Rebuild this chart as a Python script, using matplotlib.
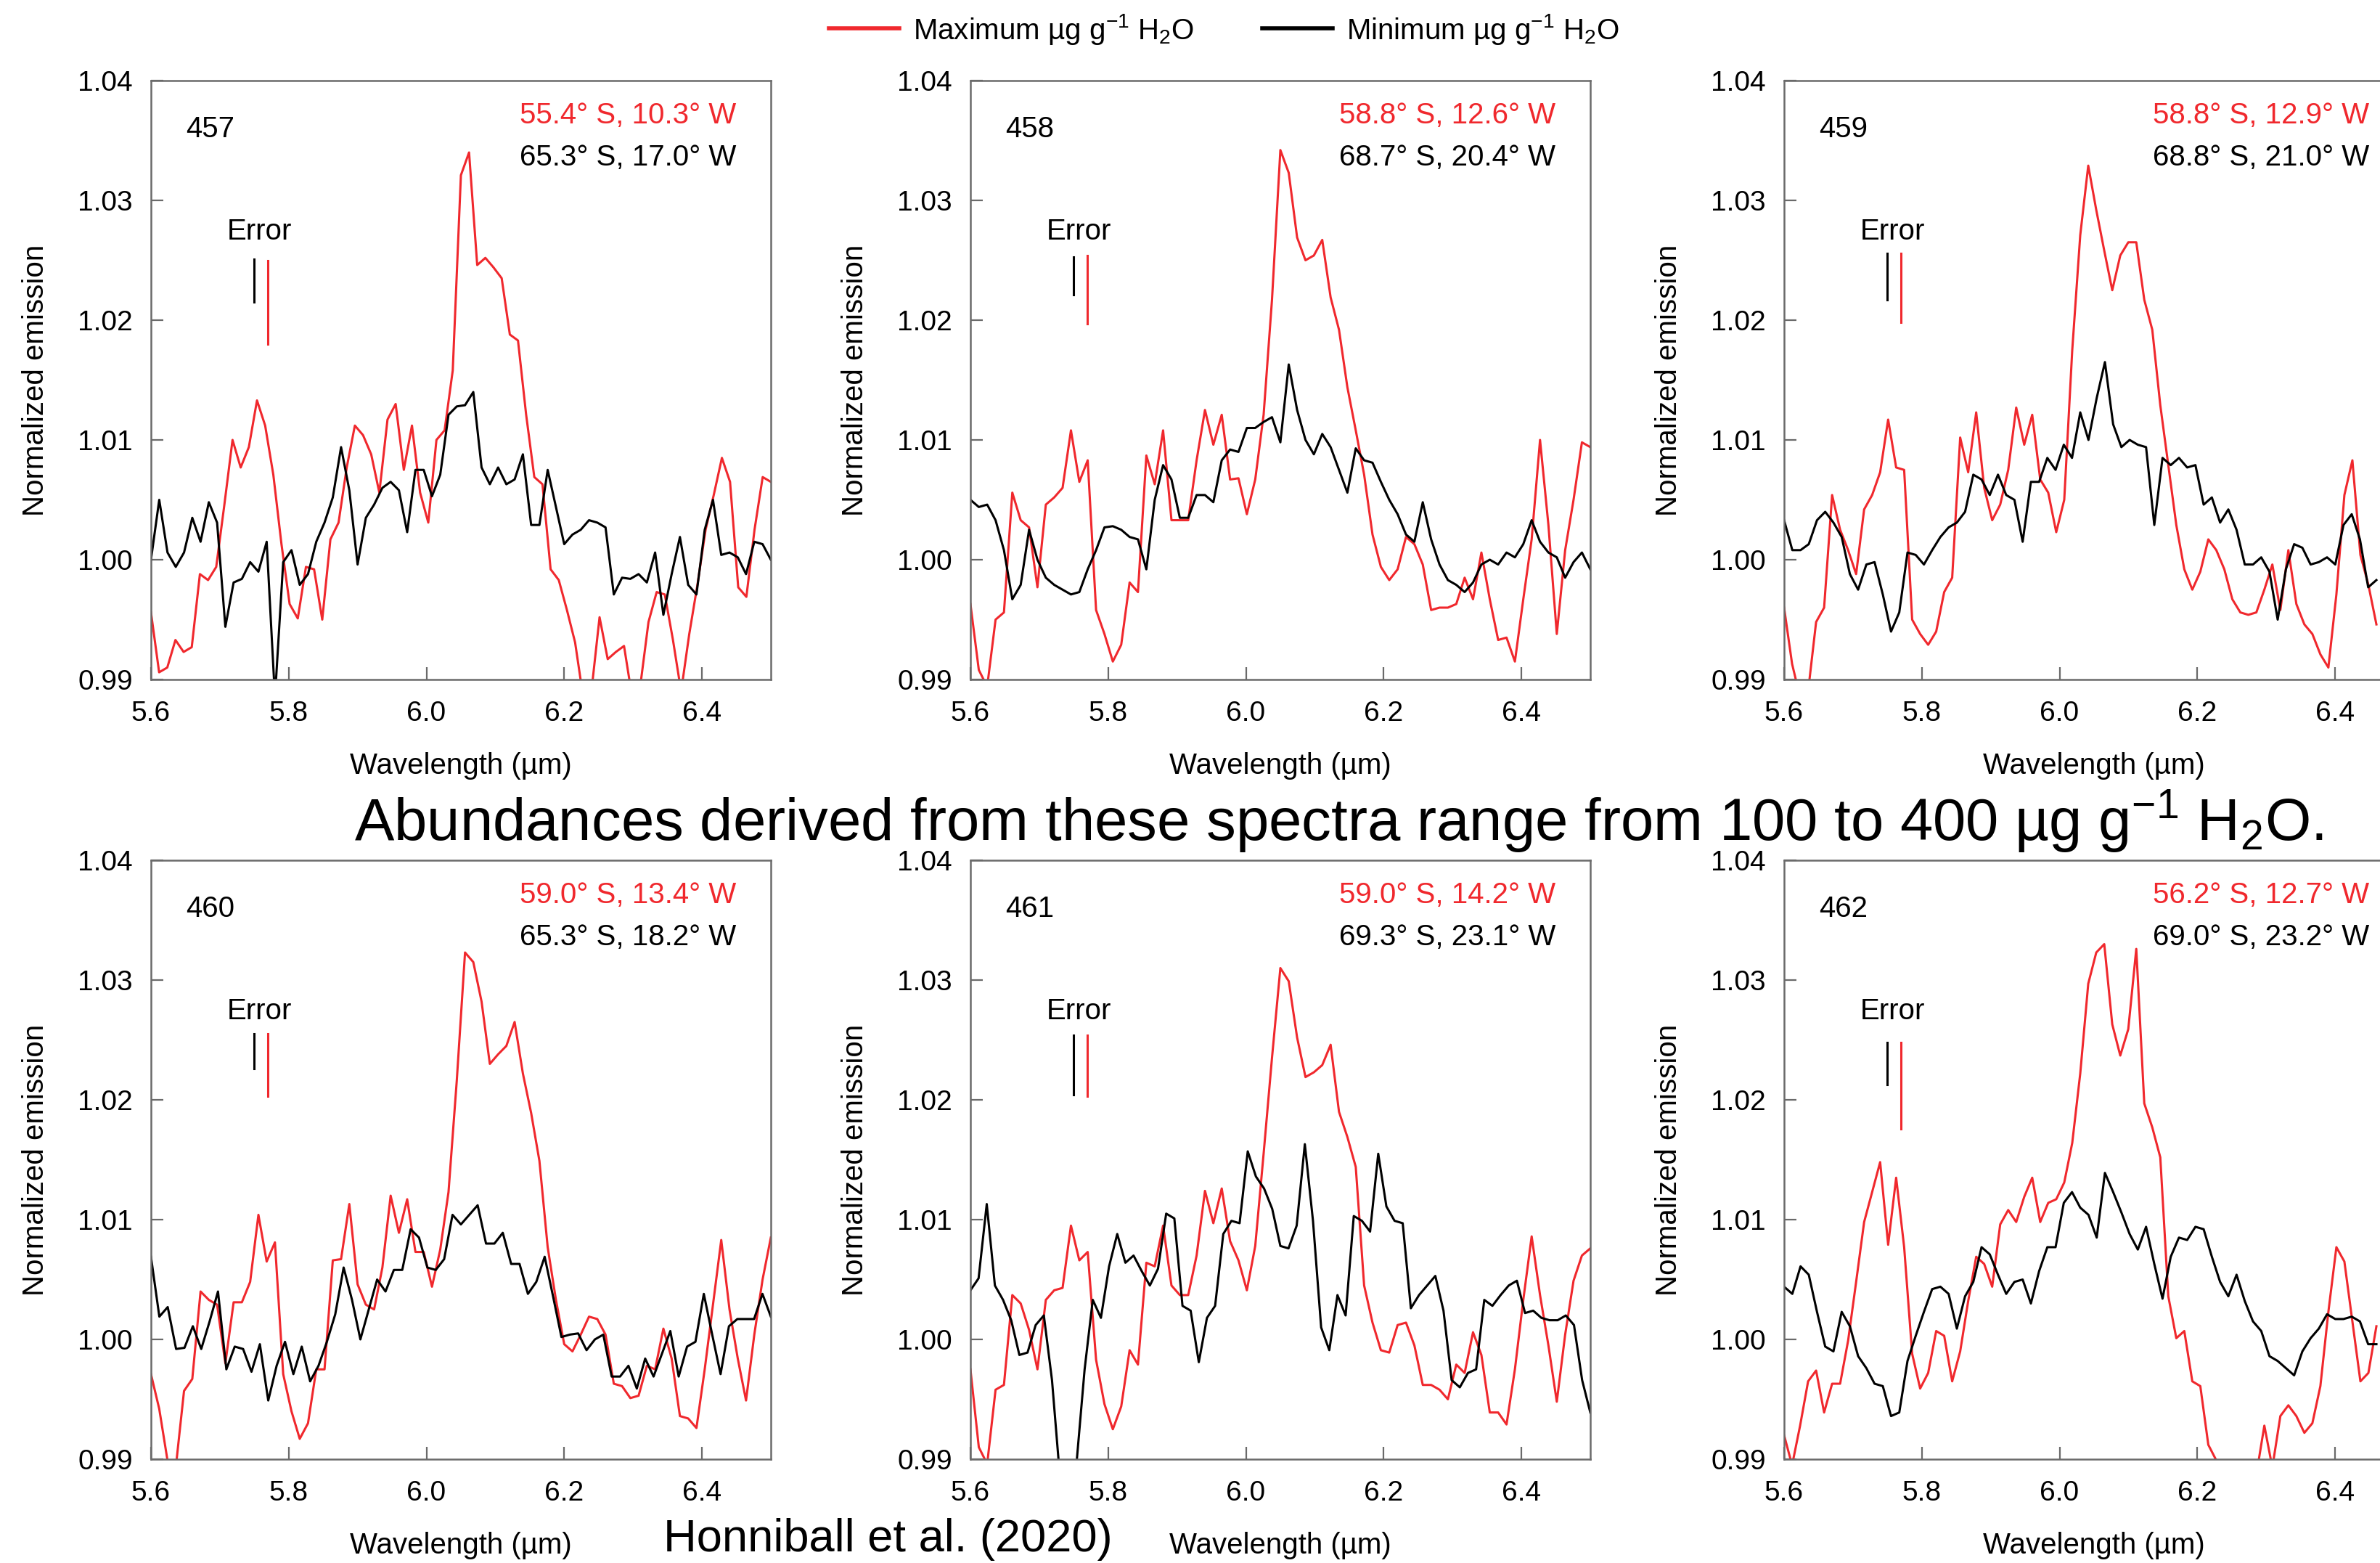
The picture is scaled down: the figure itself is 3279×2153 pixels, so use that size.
"""
Six-panel spectra figure: normalized emission vs wavelength,
max / min water abundance spectra for observations 457-462.
"""

import numpy as np
import matplotlib
matplotlib.use("Agg")
import matplotlib.pyplot as plt
from matplotlib.lines import Line2D

plt.rcParams['font.family'] = ['Liberation Sans', 'DejaVu Sans']
plt.rcParams['mathtext.fontset'] = 'custom'
plt.rcParams['mathtext.rm'] = 'Liberation Sans'
plt.rcParams['mathtext.it'] = 'Liberation Sans:italic'
plt.rcParams['mathtext.bf'] = 'Liberation Sans:bold'

RED = '#f0282d'
GREY = '#6a6a6a'

# ---------------- data ----------------
panel_ids = ['457', '458', '459', '460', '461', '462']

red_coords = ['55.4° S, 10.3° W', '58.8° S, 12.6° W', '58.8° S, 12.9° W',
              '59.0° S, 13.4° W', '59.0° S, 14.2° W', '56.2° S, 12.7° W']
black_coords = ['65.3° S, 17.0° W', '68.7° S, 20.4° W', '68.8° S, 21.0° W',
                '65.3° S, 18.2° W', '69.3° S, 23.1° W', '69.0° S, 23.2° W']

# error bar extents (low, high)
red_err = [(1.0180, 1.0250), (1.0197, 1.0254), (1.0198, 1.0256),
           (1.0203, 1.0255), (1.0203, 1.0254), (1.0176, 1.0248)]
black_err = [(1.0215, 1.0251), (1.0221, 1.0253), (1.0217, 1.0256),
             (1.0226, 1.0255), (1.0204, 1.0254), (1.0213, 1.0248)]

# last wavelength of each sampled series (right column is cut by the page edge)
wl_end = [6.5, 6.5, 6.46, 6.5, 6.5, 6.46]

red_457 = [0.9956, 0.9906, 0.9910, 0.9933, 0.9923, 0.9927, 0.9988, 0.9983, 0.9994, 1.0046,
           1.0100, 1.0077, 1.0094, 1.0133, 1.0112, 1.0071, 1.0013, 0.9963, 0.9951, 0.9994,
           0.9992, 0.9950, 1.0017, 1.0031, 1.0077, 1.0112, 1.0104, 1.0088, 1.0056, 1.0117,
           1.0130, 1.0075, 1.0112, 1.0056, 1.0031, 1.0100, 1.0108, 1.0158, 1.0321, 1.0340,
           1.0246, 1.0252, 1.0244, 1.0235, 1.0188, 1.0183, 1.0121, 1.0069, 1.0063, 0.9992,
           0.9983, 0.9958, 0.9931, 0.9885, 0.9890, 0.9952, 0.9917, 0.9923, 0.9928, 0.9885,
           0.9895, 0.9948, 0.9973, 0.9971, 0.9933, 0.9890, 0.9938, 0.9979, 1.0025, 1.0054,
           1.0085, 1.0065, 0.9977, 0.9969, 1.0025, 1.0069, 1.0065]
black_457 = [1.0000, 1.0050, 1.0006, 0.9994, 1.0006, 1.0035, 1.0015, 1.0048, 1.0031, 0.9944,
             0.9981, 0.9984, 0.9998, 0.9990, 1.0015, 0.9885, 0.9998, 1.0008, 0.9979, 0.9988,
             1.0015, 1.0031, 1.0052, 1.0094, 1.0058, 0.9996, 1.0035, 1.0046, 1.0060, 1.0065,
             1.0058, 1.0023, 1.0075, 1.0075, 1.0053, 1.0071, 1.0121, 1.0128, 1.0129, 1.0140,
             1.0077, 1.0063, 1.0077, 1.0063, 1.0067, 1.0088, 1.0029, 1.0029, 1.0075, 1.0044,
             1.0013, 1.0021, 1.0025, 1.0033, 1.0031, 1.0027, 0.9971, 0.9985, 0.9984, 0.9988,
             0.9981, 1.0006, 0.9954, 0.9988, 1.0019, 0.9979, 0.9971, 1.0025, 1.0050, 1.0004,
             1.0006, 1.0002, 0.9988, 1.0015, 1.0013, 1.0000]

red_458 = [0.9963, 0.9908, 0.9894, 0.9950, 0.9956, 1.0056, 1.0033, 1.0027, 0.9977, 1.0046,
           1.0052, 1.0060, 1.0108, 1.0065, 1.0083, 0.9958, 0.9938, 0.9915, 0.9929, 0.9981,
           0.9973, 1.0087, 1.0063, 1.0108, 1.0033, 1.0033, 1.0033, 1.0083, 1.0125, 1.0096,
           1.0121, 1.0067, 1.0068, 1.0038, 1.0067, 1.0121, 1.0217, 1.0342, 1.0323, 1.0269,
           1.0250, 1.0254, 1.0267, 1.0219, 1.0192, 1.0144, 1.0108, 1.0071, 1.0021, 0.9994,
           0.9983, 0.9992, 1.0019, 1.0013, 0.9996, 0.9958, 0.9960, 0.9960, 0.9963, 0.9985,
           0.9967, 1.0006, 0.9967, 0.9933, 0.9935, 0.9915, 0.9967, 1.0017, 1.0100, 1.0029,
           0.9938, 1.0008, 1.0050, 1.0098, 1.0094]
black_458 = [1.0050, 1.0044, 1.0046, 1.0033, 1.0008, 0.9967, 0.9979, 1.0025, 1.0000, 0.9985,
             0.9979, 0.9975, 0.9971, 0.9973, 0.9992, 1.0008, 1.0027, 1.0028, 1.0025, 1.0019,
             1.0017, 0.9992, 1.0050, 1.0079, 1.0067, 1.0035, 1.0035, 1.0054, 1.0054, 1.0048,
             1.0083, 1.0092, 1.0090, 1.0110, 1.0110, 1.0115, 1.0119, 1.0098, 1.0163, 1.0125,
             1.0100, 1.0088, 1.0105, 1.0094, 1.0075, 1.0056, 1.0093, 1.0083, 1.0081, 1.0065,
             1.0050, 1.0038, 1.0021, 1.0015, 1.0048, 1.0017, 0.9996, 0.9983, 0.9979, 0.9973,
             0.9981, 0.9996, 1.0000, 0.9996, 1.0006, 1.0002, 1.0013, 1.0033, 1.0015, 1.0006,
             1.0002, 0.9985, 0.9998, 1.0006, 0.9992]

red_459 = [0.9960, 0.9913, 0.9885, 0.9890, 0.9948, 0.9960, 1.0054, 1.0025, 1.0008, 0.9988,
           1.0042, 1.0054, 1.0073, 1.0117, 1.0077, 1.0075, 0.9950, 0.9938, 0.9929, 0.9940,
           0.9973, 0.9985, 1.0102, 1.0073, 1.0123, 1.0060, 1.0033, 1.0046, 1.0075, 1.0127,
           1.0096, 1.0121, 1.0067, 1.0056, 1.0023, 1.0050, 1.0175, 1.0271, 1.0329, 1.0292,
           1.0258, 1.0225, 1.0254, 1.0265, 1.0265, 1.0217, 1.0192, 1.0129, 1.0079, 1.0029,
           0.9992, 0.9975, 0.9990, 1.0017, 1.0008, 0.9992, 0.9967, 0.9956, 0.9954, 0.9956,
           0.9975, 0.9996, 0.9958, 1.0008, 0.9963, 0.9946, 0.9938, 0.9921, 0.9910, 0.9971,
           1.0054, 1.0083, 1.0004, 0.9979, 0.9946]
black_459 = [1.0033, 1.0008, 1.0008, 1.0013, 1.0033, 1.0040, 1.0031, 1.0019, 0.9988, 0.9975,
             0.9996, 0.9998, 0.9971, 0.9940, 0.9956, 1.0006, 1.0004, 0.9996, 1.0008, 1.0019,
             1.0027, 1.0031, 1.0040, 1.0071, 1.0067, 1.0054, 1.0071, 1.0054, 1.0050, 1.0015,
             1.0065, 1.0065, 1.0085, 1.0075, 1.0096, 1.0085, 1.0123, 1.0100, 1.0135, 1.0165,
             1.0113, 1.0094, 1.0100, 1.0096, 1.0094, 1.0029, 1.0085, 1.0079, 1.0085, 1.0077,
             1.0079, 1.0046, 1.0052, 1.0031, 1.0042, 1.0025, 0.9996, 0.9996, 1.0002, 0.9990,
             0.9950, 0.9992, 1.0013, 1.0010, 0.9996, 0.9998, 1.0002, 0.9996, 1.0029, 1.0038,
             1.0017, 0.9977, 0.9983]

red_460 = [0.9971, 0.9942, 0.9899, 0.9893, 0.9957, 0.9967, 1.0040, 1.0033, 1.0029, 0.9980,
           1.0031, 1.0031, 1.0048, 1.0104, 1.0065, 1.0081, 0.9971, 0.9940, 0.9917, 0.9930,
           0.9975, 0.9975, 1.0066, 1.0067, 1.0113, 1.0046, 1.0029, 1.0025, 1.0060, 1.0120,
           1.0089, 1.0117, 1.0073, 1.0073, 1.0044, 1.0075, 1.0123, 1.0216, 1.0323, 1.0315,
           1.0282, 1.0230, 1.0238, 1.0245, 1.0265, 1.0222, 1.0189, 1.0149, 1.0077, 1.0033,
           0.9996, 0.9990, 1.0004, 1.0019, 1.0017, 1.0004, 0.9963, 0.9961, 0.9951, 0.9953,
           0.9978, 0.9975, 1.0009, 0.9984, 0.9936, 0.9934, 0.9926, 0.9975, 1.0029, 1.0083,
           1.0025, 0.9984, 0.9949, 1.0004, 1.0050, 1.0085]
black_460 = [1.0069, 1.0019, 1.0027, 0.9992, 0.9993, 1.0011, 0.9992, 1.0015, 1.0040, 0.9975,
             0.9994, 0.9992, 0.9973, 0.9996, 0.9949, 0.9978, 0.9998, 0.9971, 0.9994, 0.9965,
             0.9978, 0.9998, 1.0021, 1.0060, 1.0033, 1.0000, 1.0025, 1.0050, 1.0040, 1.0058,
             1.0058, 1.0092, 1.0085, 1.0060, 1.0058, 1.0067, 1.0104, 1.0096, 1.0104, 1.0112,
             1.0080, 1.0080, 1.0089, 1.0063, 1.0063, 1.0038, 1.0048, 1.0069, 1.0036, 1.0002,
             1.0004, 1.0005, 0.9991, 1.0000, 1.0004, 0.9969, 0.9969, 0.9978, 0.9959, 0.9984,
             0.9969, 0.9988, 1.0007, 0.9969, 0.9994, 0.9998, 1.0038, 1.0004, 0.9971, 1.0011,
             1.0017, 1.0017, 1.0017, 1.0038, 1.0019]

red_461 = [0.9975, 0.9910, 0.9896, 0.9958, 0.9962, 1.0037, 1.0030, 1.0008, 0.9975, 1.0033,
           1.0041, 1.0043, 1.0095, 1.0066, 1.0073, 0.9983, 0.9946, 0.9925, 0.9944, 0.9991,
           0.9979, 1.0064, 1.0061, 1.0095, 1.0045, 1.0037, 1.0037, 1.0070, 1.0124, 1.0097,
           1.0126, 1.0082, 1.0066, 1.0041, 1.0078, 1.0155, 1.0235, 1.0310, 1.0299, 1.0252,
           1.0219, 1.0223, 1.0229, 1.0246, 1.0190, 1.0169, 1.0144, 1.0045, 1.0014, 0.9991,
           0.9989, 1.0012, 1.0014, 0.9995, 0.9962, 0.9962, 0.9958, 0.9950, 0.9979, 0.9972,
           1.0006, 0.9987, 0.9939, 0.9939, 0.9929, 0.9975, 1.0033, 1.0086, 1.0037, 0.9995,
           0.9948, 1.0004, 1.0049, 1.0070, 1.0076]
black_461 = [1.0041, 1.0051, 1.0113, 1.0045, 1.0033, 1.0016, 0.9987, 0.9989, 1.0012, 1.0020,
             0.9966, 0.9883, 0.9875, 0.9896, 0.9975, 1.0033, 1.0018, 1.0061, 1.0088, 1.0064,
             1.0070, 1.0057, 1.0045, 1.0059, 1.0105, 1.0101, 1.0028, 1.0024, 0.9981, 1.0018,
             1.0028, 1.0088, 1.0099, 1.0097, 1.0157, 1.0136, 1.0126, 1.0109, 1.0078, 1.0076,
             1.0095, 1.0163, 1.0099, 1.0010, 0.9991, 1.0037, 1.0020, 1.0103, 1.0099, 1.0090,
             1.0155, 1.0111, 1.0099, 1.0097, 1.0026, 1.0037, 1.0045, 1.0053, 1.0024, 0.9966,
             0.9960, 0.9972, 0.9975, 1.0033, 1.0028, 1.0037, 1.0045, 1.0049, 1.0022, 1.0024,
             1.0018, 1.0016, 1.0016, 1.0020, 1.0012, 0.9966, 0.9939]

red_462 = [0.9920, 0.9895, 0.9928, 0.9965, 0.9974, 0.9939, 0.9963, 0.9963, 0.9999, 1.0048,
           1.0098, 1.0123, 1.0148, 1.0079, 1.0135, 1.0077, 0.9988, 0.9959, 0.9972, 1.0007,
           1.0003, 0.9965, 0.9990, 1.0032, 1.0069, 1.0063, 1.0044, 1.0096, 1.0108, 1.0098,
           1.0119, 1.0135, 1.0098, 1.0114, 1.0117, 1.0131, 1.0164, 1.0222, 1.0297, 1.0323,
           1.0330, 1.0263, 1.0237, 1.0259, 1.0326, 1.0197, 1.0177, 1.0152, 1.0036, 1.0001,
           1.0007, 0.9965, 0.9961, 0.9912, 0.9899, 0.9883, 0.9866, 0.9866, 0.9891, 0.9887,
           0.9928, 0.9893, 0.9936, 0.9945, 0.9936, 0.9922, 0.9930, 0.9961, 1.0023, 1.0077,
           1.0065, 1.0015, 0.9965, 0.9972, 1.0011]
black_462 = [1.0044, 1.0038, 1.0061, 1.0054, 1.0023, 0.9994, 0.9990, 1.0023, 1.0011, 0.9986,
             0.9976, 0.9963, 0.9961, 0.9936, 0.9939, 0.9982, 1.0003, 1.0023, 1.0042, 1.0044,
             1.0038, 1.0009, 1.0036, 1.0048, 1.0077, 1.0071, 1.0054, 1.0038, 1.0048, 1.0050,
             1.0030, 1.0057, 1.0077, 1.0077, 1.0114, 1.0123, 1.0110, 1.0104, 1.0085, 1.0139,
             1.0123, 1.0106, 1.0088, 1.0075, 1.0094, 1.0063, 1.0034, 1.0069, 1.0085, 1.0083,
             1.0094, 1.0092, 1.0069, 1.0048, 1.0036, 1.0054, 1.0032, 1.0015, 1.0007, 0.9986,
             0.9982, 0.9976, 0.9970, 0.9990, 1.0001, 1.0009, 1.0021, 1.0017, 1.0017, 1.0019,
             1.0015, 0.9996, 0.9996]

red_spectra = [red_457, red_458, red_459, red_460, red_461, red_462]
black_spectra = [black_457, black_458, black_459, black_460, black_461, black_462]

x_ticks = [5.6, 5.8, 6.0, 6.2, 6.4]
y_ticks = [0.99, 1.00, 1.01, 1.02, 1.03, 1.04]

# ---------------- layout ----------------
W, H = 3279, 2153
fig = plt.figure(figsize=(W / 100, H / 100), dpi=100)

col_left = [208, 1337, 2458]
row_top = [111, 1185]
ax_w, ax_h = 854, 825
LW = 2.2

for i, pid in enumerate(panel_ids):
    r, c = divmod(i, 3)
    left = col_left[c] / W
    bottom = 1 - (row_top[r] + ax_h) / H
    ax = fig.add_axes([left, bottom, ax_w / W, ax_h / H])

    red = red_spectra[i]
    black = black_spectra[i]
    ax.plot(np.linspace(5.6, wl_end[i], len(red)), red, color=RED, lw=LW)
    ax.plot(np.linspace(5.6, wl_end[i], len(black)), black, color='black', lw=LW)

    # error bars
    ax.plot([5.75, 5.75], black_err[i], color='black', lw=LW)
    ax.plot([5.77, 5.77], red_err[i], color=RED, lw=LW)
    ax.text(5.757, 1.0274, 'Error', ha='center', va='center', fontsize=29)

    ax.text(0.056, 0.919, pid, transform=ax.transAxes, ha='left', va='center', fontsize=29)
    ax.text(0.944, 0.942, red_coords[i], transform=ax.transAxes, ha='right', va='center',
            fontsize=29, color=RED)
    ax.text(0.944, 0.871, black_coords[i], transform=ax.transAxes, ha='right', va='center',
            fontsize=29, color='black')

    ax.set_xlim(5.6, 6.5)
    ax.set_ylim(0.99, 1.04)
    ax.set_xticks(x_ticks)
    ax.set_yticks(y_ticks)
    ax.set_xticklabels([f'{t:.1f}' for t in x_ticks])
    ax.set_yticklabels([f'{t:.2f}' for t in y_ticks])
    ax.tick_params(direction='in', length=12, width=1.6, color=GREY, labelsize=28)
    ax.tick_params(axis='x', pad=21)
    ax.tick_params(axis='y', pad=18)
    for s in ax.spines.values():
        s.set_color(GREY)
        s.set_linewidth(1.8)

    ax.set_xlabel('Wavelength (µm)', fontsize=29)
    ax.set_ylabel('Normalized emission', fontsize=29)
    ax.xaxis.set_label_coords(0.5, -0.121)
    ax.yaxis.set_label_coords(-0.164, 0.5)

handles = [Line2D([], [], color=RED, lw=4), Line2D([], [], color='black', lw=4)]
labels = ['Maximum µg g$^{-1}$ H$_2$O', 'Minimum µg g$^{-1}$ H$_2$O']
fig.legend(handles, labels, loc='center left', bbox_to_anchor=(1142 / W, 1 - 40 / H),
           ncol=2, frameon=False, fontsize=29, handlelength=2.4, handletextpad=0.47,
           columnspacing=2.35, borderpad=0, borderaxespad=0)

fig.text(488 / W, 1 - 1158 / H,
         'Abundances derived from these spectra range from 100 to 400 µg g$^{-1}$ H$_2$O.',
         ha='left', va='baseline', fontsize=58.7)
fig.text(914 / W, 1 - 2137 / H, 'Honniball et al. (2020)', ha='left', va='baseline',
         fontsize=45.5)

fig.savefig('out.png', dpi=100)
